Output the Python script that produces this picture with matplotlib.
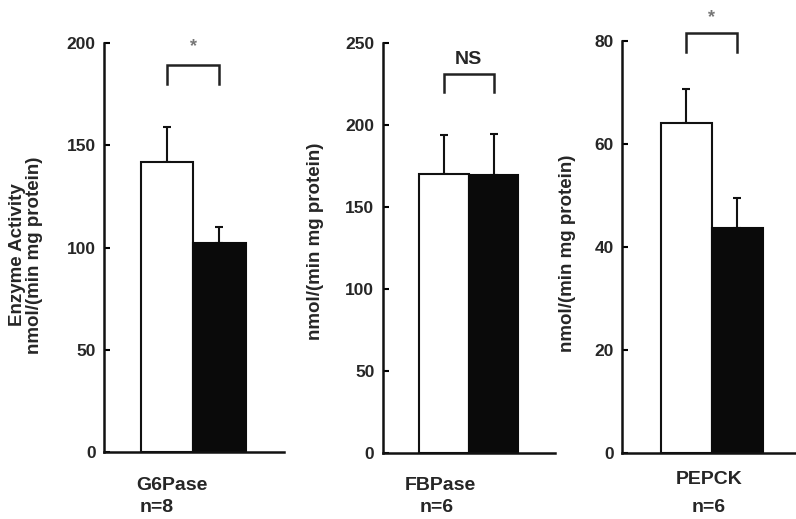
import matplotlib
matplotlib.use("Agg")
import matplotlib.pyplot as plt

plt.rcParams['font.family'] = ['Liberation Sans', 'DejaVu Sans']
plt.rcParams['font.weight'] = 'bold'

enzymes = ["G6Pase", "FBPase", "PEPCK"]
n_labels = ["n=8", "n=6", "n=6"]
white_means = [142, 170, 64]
white_err = [17, 24, 6.6]
black_means = [102, 169.5, 43.8]
black_err = [8, 24.8, 5.7]
ymax = [200, 250, 80]
yticks = [[0, 50, 100, 150, 200], [0, 50, 100, 150, 200, 250], [0, 20, 40, 60, 80]]
sig_labels = ["*", "NS", "*"]
bracket_top = [189, 231, 81.5]
bracket_bot = [180, 220, 77.9]
sig_y = [198, 240, 84.5]

W, H = 796, 519
fig = plt.figure(figsize=(W / 100, H / 100), dpi=100)

# axes positions in pixel space: left, right, bottom(y from top), top(y from top)
pos = [(104, 284, 452, 43), (382.7, 555, 453.3, 43), (622.3, 796, 453.3, 41)]
xlims = [(-1.22, 2.24), (-1.24, 2.24), (-1.25, 2.15)]
ylab_x = [26, 316, 567]
ylab_y = [255, 241, 253]
xlab = [(172, 486, 157, 508), (440, 486, 437, 508), (709, 479, 709, 508)]
txtc = '#262626'

for i in range(3):
    l, r, b, t = pos[i]
    ax = fig.add_axes([l / W, 1 - b / H, (r - l) / W, (b - t) / H])
    ax.bar([0], [white_means[i]], width=1.0, color='white', edgecolor='#111111',
           linewidth=1.5, zorder=2)
    ax.bar([1], [black_means[i]], width=1.0, color='#0a0a0a', edgecolor='#0a0a0a',
           linewidth=1.5, zorder=2)
    ax.errorbar([0, 1], [white_means[i], black_means[i]],
                yerr=[[0, 0], [white_err[i], black_err[i]]],
                fmt='none', ecolor='#111111', elinewidth=1.5, capsize=3,
                capthick=1.5, zorder=1)
    ax.set_xlim(*xlims[i])
    ax.set_ylim(0, ymax[i])
    ax.set_yticks(yticks[i])
    ax.set_xticks([])
    ax.tick_params(axis='y', direction='in', length=4, width=1.5, labelsize=12.5,
                   labelcolor=txtc, pad=6)
    for lab in ax.get_yticklabels():
        lab.set_fontweight('bold')
    for s in ['top', 'right']:
        ax.spines[s].set_visible(False)
    for s in ['left', 'bottom']:
        ax.spines[s].set_linewidth(1.8)
        ax.spines[s].set_color('#111111')
    ax.patch.set_alpha(0)
    # significance bracket
    ax.plot([0, 0, 1, 1], [bracket_bot[i], bracket_top[i], bracket_top[i], bracket_bot[i]],
            color='#222222', linewidth=1.8, clip_on=False, solid_joinstyle='miter')
    if sig_labels[i] == '*':
        ax.text(0.5, sig_y[i], '*', ha='center', va='center', fontsize=13,
                color='#777777', clip_on=False)
    else:
        ax.text(0.5, sig_y[i], 'NS', ha='center', va='center', fontsize=14,
                fontweight='bold', color=txtc, clip_on=False)
    # y labels
    if i == 0:
        fig.text(ylab_x[i] / W, 1 - ylab_y[i] / H, "Enzyme Activity\nnmol/(min mg protein)",
                 rotation=90, ha='center', va='center', fontsize=13.5, fontweight='bold',
                 color=txtc, linespacing=1.05)
    else:
        fig.text(ylab_x[i] / W, 1 - ylab_y[i] / H, "nmol/(min mg protein)",
                 rotation=90, ha='center', va='center', fontsize=13.5, fontweight='bold',
                 color=txtc)
    ex, ey, nx, ny = xlab[i]
    fig.text(ex / W, 1 - ey / H, enzymes[i], ha='center', va='center', fontsize=14,
             fontweight='bold', color=txtc)
    fig.text(nx / W, 1 - ny / H, n_labels[i], ha='center', va='center', fontsize=14,
             fontweight='bold', color=txtc)

fig.savefig('out.png', dpi=100, facecolor='white')
